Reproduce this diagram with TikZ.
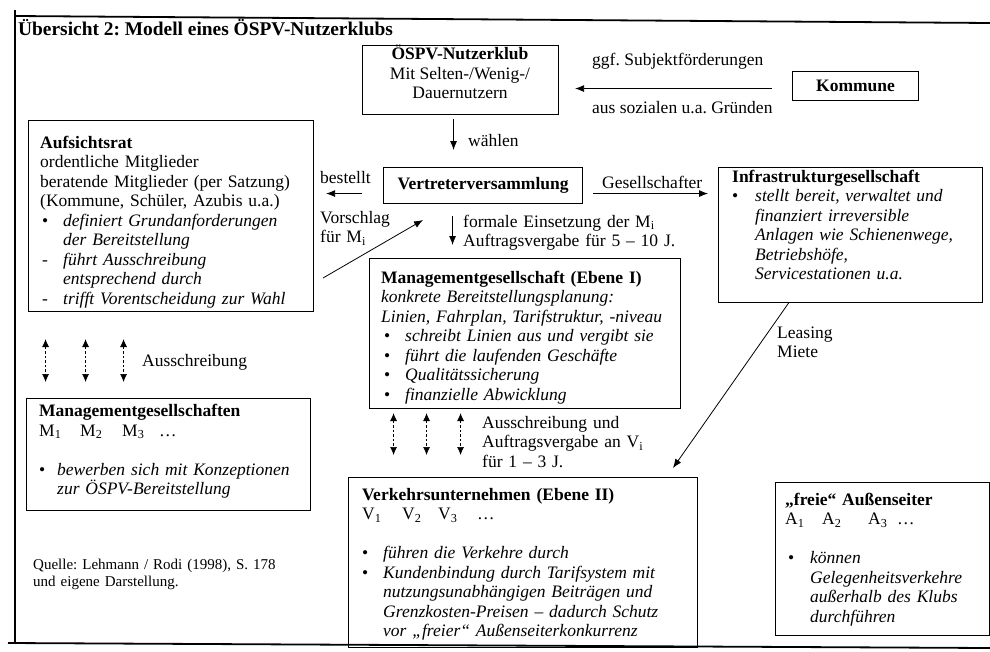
\documentclass[tikz,border=0pt]{standalone}
\usepackage{fontspec}
\setmainfont{Liberation Serif}
\usetikzlibrary{arrows.meta}
\frenchspacing
\newcommand\bl[2][23pt]{\makebox[#1][l]{#2}}
\newcommand\fsz{\fontsize{17.5}{19.5}\selectfont}
\newcommand\fsq{\fontsize{15}{17}\selectfont}
\begin{document}
\frenchspacing
\begin{tikzpicture}[x=1pt,y=-1pt,
  box/.style={draw,line width=1.1pt,inner sep=0,anchor=north west,font=\fsz},
  txt/.style={anchor=north west,inner sep=0,align=left,font=\fsz,text width=330pt},
  lbl/.style={anchor=west,inner sep=0,font=\fsz},
  arr/.style={-{Latex[length=9pt,width=7pt]},line width=0.8pt},
  darr/.style={{Latex[length=8pt,width=7pt]}-{Latex[length=8pt,width=7pt]},dash pattern=on 2.5pt off 2pt,line width=0.7pt},
  frame/.style={line width=1.8pt}]
\useasboundingbox (0,0) rectangle (990,651);
% outer frame
\draw[frame] (15,10) -- (15,643);
\draw[frame] (15,16) -- (990,23);
\draw[frame] (8,643) -- (990,648);
% title
\node[anchor=west,inner sep=0,font=\fontsize{19.4}{22}\selectfont\bfseries] (title) at (18,28) {Übersicht 2: Modell eines ÖSPV-Nutzerklubs};
% boxes
\node[box,minimum width=196pt,minimum height=69pt] (klub) at (362,45) {};
\node[align=center,inner sep=0,font=\fsz] (klubT) at (460,72) {\textbf{ÖSPV-Nutzerklub}\\Mit Selten-/Wenig-/\\Dauernutzern};
\node[box,minimum width=126pt,minimum height=29pt] (kom) at (792,71) {\textbf{Kommune}};
\node[box,minimum width=285pt,minimum height=191pt] (aufs) at (28,120) {};
\node[box,minimum width=199pt,minimum height=36pt] (vv) at (383,167) {\textbf{Vertreterversammlung}};
\node[box,minimum width=264pt,minimum height=135pt] (inf) at (718,167) {};
\node[box,minimum width=311pt,minimum height=150pt] (mg) at (369,258) {};
\node[box,minimum width=284pt,minimum height=112pt] (mgs) at (26,398) {};
\node[box,minimum width=349pt,minimum height=170pt] (vk) at (348,477) {};
\node[box,minimum width=214pt,minimum height=153pt] (au) at (775,482) {};
% box texts
\node[txt] (aufsT) at (40,134.5) {\strut\textbf{Aufsichtsrat}\\
ordentliche Mitglieder\\
beratende Mitglieder (per Satzung)\\
(Kommune, Schüler, Azubis u.a.)\\
\bl{\hspace{2pt}•}\textit{definiert Grundanforderungen}\\
\bl{}\textit{der Bereitstellung}\\
\bl{\hspace{2pt}-}\textit{führt Ausschreibung}\\
\bl{}\textit{entsprechend durch}\\
\bl{\hspace{2pt}-}\textit{trifft Vorentscheidung zur Wahl}};
\node[txt] (mgT) at (381,269.5) {\strut\textbf{Managementgesellschaft (Ebene I)}\\
\textit{konkrete Bereitstellungsplanung:}\\
\textit{Linien, Fahrplan, Tarifstruktur, -niveau}\\
\bl[24pt]{\hspace{3pt}•}\textit{schreibt Linien aus und vergibt sie}\\
\bl[24pt]{\hspace{3pt}•}\textit{führt die laufenden Geschäfte}\\
\bl[24pt]{\hspace{3pt}•}\textit{Qualitätssicherung}\\
\bl[24pt]{\hspace{3pt}•}\textit{finanzielle Abwicklung}};
\node[txt] (infT) at (732,168.5) {\strut\textbf{Infrastrukturgesellschaft}\\
\bl{•}\textit{stellt bereit, verwaltet und}\\
\bl{}\textit{finanziert irreversible}\\
\bl{}\textit{Anlagen wie Schienenwege,}\\
\bl{}\textit{Betriebshöfe,}\\
\bl{}\textit{Servicestationen u.a.}};
\node[txt] (mgsT) at (39,403) {\strut\textbf{Managementgesellschaften}\\
\bl[41pt]{M\textsubscript{1}}\bl[42pt]{M\textsubscript{2}}\bl[37pt]{M\textsubscript{3}}…\\
\mbox{}\\
\bl[18pt]{•}\textit{bewerben sich mit Konzeptionen}\\
\bl[18pt]{}\textit{zur ÖSPV-Bereitstellung}};
\node[txt] (vkT) at (362,486.5) {\strut\textbf{Verkehrsunternehmen (Ebene II)}\\
\bl[40pt]{V\textsubscript{1}}\bl[36pt]{V\textsubscript{2}}\bl[39pt]{V\textsubscript{3}}…\\
\mbox{}\\
\bl[21pt]{•}\textit{führen die Verkehre durch}\\
\bl[21pt]{•}\textit{Kundenbindung durch Tarifsystem mit}\\
\bl[21pt]{}\textit{nutzungsunabhängigen Beiträgen und}\\
\bl[21pt]{}\textit{Grenzkosten-Preisen – dadurch Schutz}\\
\bl[21pt]{}\textit{vor „freier“ Außenseiterkonkurrenz}};
\node[txt] (auT) at (785,491.5) {\strut\textbf{„freie“ Außenseiter}\\
\bl[37pt]{A\textsubscript{1}}\bl[46pt]{A\textsubscript{2}}\bl[29pt]{A\textsubscript{3}}…\\
\mbox{}\\
\bl[25pt]{\hspace{3pt}•}\textit{können}\\
\bl[25pt]{}\textit{Gelegenheitsverkehre}\\
\bl[25pt]{}\textit{außerhalb des Klubs}\\
\bl[25pt]{}\textit{durchführen}};
% labels
\node[lbl] (lggf) at (592,61) {ggf. Subjektförderungen};
\node[lbl] (laus) at (592,108) {aus sozialen u.a. Gründen};
\node[lbl] (lwae) at (468,141) {wählen};
\node[lbl] (lbes) at (320,178) {bestellt};
\node[txt,text width=80pt] (lvor) at (320,209.5) {\strut Vorschlag\\für M\textsubscript{i}};
\node[lbl] (lges) at (602,182) {Gesellschafter};
\node[txt,text width=250pt,font=\fontsize{17.5}{19}\selectfont] (lfor) at (463,213.5) {\strut formale Einsetzung der M\textsubscript{i}\\Auftragsvergabe für 5 – 10 J.};
\node[lbl] (laus2) at (142,362) {Ausschreibung};
\node[txt,text width=250pt] (lauv) at (482,414.5) {\strut Ausschreibung und\\Auftragsvergabe an V\textsubscript{i}\\für 1 – 3 J.};
\node[txt,text width=100pt] (llea) at (777,324.5) {\strut Leasing\\Miete};
\node[txt,text width=300pt,font=\fsq] (lque) at (33,557) {\strut Quelle: Lehmann / Rodi (1998), S. 178\\und eigene Darstellung.};
% connectors
\draw[arr,shorten <=20pt,shorten >=16pt] ([yshift=-2.5pt]kom.west) -- ([yshift=-8.5pt]klub.east);
\draw[arr,shorten <=4pt,shorten >=17pt] ([xshift=-7pt]klub.south) -- ([xshift=-29.5pt]vv.north);
\draw[arr,shorten <=21pt,shorten >=12pt] ([yshift=-8pt]vv.west) -- ([yshift=22.5pt]aufs.east);
\draw[arr,shorten <=10pt,shorten >=10pt] ([yshift=-8pt]vv.east) -- ([yshift=41.5pt]inf.west);
\draw[arr,shorten <=12pt,shorten >=13pt] ([xshift=-30.5pt]vv.south) -- ([xshift=-72.5pt]mg.north);
\coordinate (vsA) at (323,278);
\coordinate (vsB) at (423,220);
\draw[arr] (vsA) -- (vsB);
\coordinate (lease) at (673,468);
\draw[arr] ([xshift=-62pt]inf.south) -- (lease);
\foreach \a/\b in {-125.5/-123,-85.5/-83,-47.5/-45}
  \draw[darr,shorten <=27pt,shorten >=16pt] ([xshift=\a pt]aufs.south) -- ([xshift=\b pt]mgs.north);
\foreach \a/\b in {-131.5/-129.5,-98.5/-96.5,-64.5/-62.5}
  \draw[darr,shorten <=4pt,shorten >=22pt] ([xshift=\a pt]mg.south) -- ([xshift=\b pt]vk.north);
\end{tikzpicture}
\end{document}
